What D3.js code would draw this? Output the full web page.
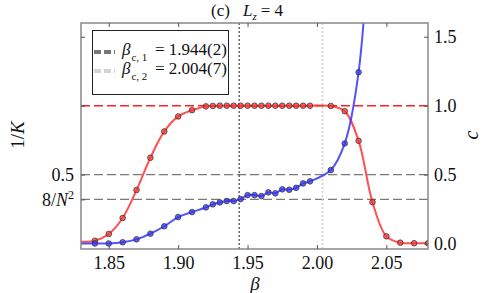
<!DOCTYPE html>
<html>
<head>
<meta charset="utf-8">
<script src="https://cdn.jsdelivr.net/npm/d3@7"></script>
<style>
  html, body { margin: 0; padding: 0; background: #fff; }
  svg text { font-family: "Liberation Serif", "DejaVu Serif", serif; fill: #111; }
</style>
</head>
<body>
<div id="chart"></div>
<script>
// --- data ---
const betaInvK = [1.83, 1.84, 1.85, 1.86, 1.87, 1.88, 1.89, 1.90, 1.91,
  1.92, 1.925, 1.93, 1.935, 1.94, 1.945, 1.95, 1.955, 1.96, 1.965, 1.97, 1.975, 1.98, 1.985, 1.99, 1.995,
  2.01, 2.02, 2.03, 2.04, 2.05, 2.06, 2.07, 2.08];
const invK = [0.013, 0.02, 0.069, 0.185, 0.388, 0.622, 0.813, 0.922, 0.967,
  0.995, 0.998, 1.0, 1.0, 1.0, 1.0, 1.0, 1.0, 1.0, 1.0, 1.0, 1.0, 1.0, 1.0, 1.0, 1.0,
  0.998, 0.96, 0.745, 0.30, 0.052, 0.006, 0.002, 0.002];

const betaC = [1.83, 1.84, 1.85, 1.86, 1.87, 1.88, 1.89, 1.90, 1.91,
  1.92, 1.925, 1.93, 1.935, 1.94, 1.945, 1.95, 1.955, 1.96, 1.965, 1.97, 1.975, 1.98, 1.985, 1.99, 1.995,
  2.01, 2.02, 2.03, 2.04];
const cVals = [0.0, 0.0, 0.0, 0.009, 0.03, 0.071, 0.125, 0.192, 0.228,
  0.262, 0.284, 0.298, 0.308, 0.308, 0.322, 0.351, 0.351, 0.344, 0.371, 0.364, 0.393, 0.39, 0.404, 0.436, 0.451,
  0.533, 0.726, 1.243, 2.65];

const xTicks = [1.85, 1.90, 1.95, 2.00, 2.05];
const rightTicks = [0.0, 0.5, 1.0, 1.5];
const leftTicks = [0.32, 0.5, 1.0, 1.5];
const leftLabels = { 0.32: "8/N²", 0.5: "0.5" };
const hLinesGray = [0.5, 0.32];
const hLineRed = 1.0;
const betaC1 = 1.944, betaC2 = 2.004;
const legendRows = [
  { sub: "c, 1", value: "= 1.944(2)", color: "#777" },
  { sub: "c, 2", value: "= 2.004(7)", color: "#d3d3d3" }
];

const width = 488, height = 293;
const margin = { top: 23, right: 60, bottom: 44, left: 81 };

const svg = d3.select("#chart").append("svg")
  .attr("width", width).attr("height", height);

const x = d3.scaleLinear().domain([1.83, 2.08]).range([margin.left, width - margin.right]);
const y = d3.scaleLinear().domain([-0.04, 1.6]).range([height - margin.bottom, margin.top]);

svg.append("clipPath").attr("id", "clip")
  .append("rect")
  .attr("x", margin.left).attr("y", margin.top)
  .attr("width", x.range()[1] - x.range()[0])
  .attr("height", y.range()[0] - y.range()[1]);

const plot = svg.append("g").attr("clip-path", "url(#clip)");

// reference lines
hLinesGray.forEach(v => {
  plot.append("line")
    .attr("x1", x.range()[0]).attr("x2", x.range()[1])
    .attr("y1", y(v)).attr("y2", y(v))
    .attr("stroke", "#7a7a7a").attr("stroke-width", 1.3)
    .attr("stroke-dasharray", "9,4");
});
plot.append("line")
  .attr("x1", x.range()[0]).attr("x2", x.range()[1])
  .attr("y1", y(hLineRed)).attr("y2", y(hLineRed))
  .attr("stroke", "#ff2020").attr("stroke-width", 1.4)
  .attr("stroke-dasharray", "9,4");

[[betaC1, "#666"], [betaC2, "#cfcfcf"]].forEach(([b, col]) => {
  plot.append("line")
    .attr("x1", x(b)).attr("x2", x(b))
    .attr("y1", y.range()[0]).attr("y2", y.range()[1])
    .attr("stroke", col).attr("stroke-width", 1.5)
    .attr("stroke-dasharray", "2,2");
});

// curves
const redData = betaInvK.map((b, i) => ({ b, v: invK[i] }));
const blueData = betaC.map((b, i) => ({ b, v: cVals[i] }));

const line = d3.line().x(d => x(d.b)).y(d => y(d.v)).curve(d3.curveCatmullRom.alpha(0.5));

function series(data, color) {
  plot.append("path").datum(data)
    .attr("d", line)
    .attr("fill", "none")
    .attr("stroke", color).attr("stroke-width", 2).attr("stroke-opacity", 0.85);
  plot.append("g").selectAll("circle")
    .data(data.filter(d => d.b > x.domain()[0]))
    .join("circle")
    .attr("cx", d => x(d.b)).attr("cy", d => y(d.v))
    .attr("r", 2.8)
    .attr("fill", color).attr("fill-opacity", 0.75)
    .attr("stroke", "#333").attr("stroke-opacity", 0.75).attr("stroke-width", 1);
}
series(redData, "#ff3333");
series(blueData, "#3434ff");

// frame
svg.append("rect")
  .attr("x", margin.left).attr("y", margin.top)
  .attr("width", x.range()[1] - x.range()[0])
  .attr("height", y.range()[0] - y.range()[1])
  .attr("fill", "none").attr("stroke", "#888").attr("stroke-width", 1.5);

// axes (inward ticks)
const xb = svg.append("g")
  .attr("transform", `translate(0,${y.range()[0]})`)
  .call(d3.axisBottom(x).tickValues(xTicks).tickFormat(d3.format(".2f")).tickSizeInner(-4).tickSizeOuter(0).tickPadding(7));
const xt = svg.append("g")
  .attr("transform", `translate(0,${y.range()[1]})`)
  .call(d3.axisTop(x).tickValues(xTicks).tickFormat("").tickSizeInner(-4).tickSizeOuter(0));
const yr = svg.append("g")
  .attr("transform", `translate(${x.range()[1]},0)`)
  .call(d3.axisRight(y).tickValues(rightTicks).tickFormat(d3.format(".1f")).tickSizeInner(-4).tickSizeOuter(0).tickPadding(6));
const yl = svg.append("g")
  .attr("transform", `translate(${x.range()[0]},0)`)
  .call(d3.axisLeft(y).tickValues(leftTicks).tickFormat(d => leftLabels[d] || "").tickSizeInner(-4).tickSizeOuter(0).tickPadding(7));

[xb, xt, yr, yl].forEach(g => {
  g.select(".domain").remove();
  g.selectAll(".tick line").attr("stroke", "#555").attr("stroke-width", 1);
  g.selectAll(".tick text").attr("font-size", 18).attr("font-family", "Liberation Serif").attr("fill", "#111");
});
yl.selectAll(".tick text").each(function (d) {
  if (d === 0.32) {
    const t = d3.select(this).text("8/");
    t.append("tspan").attr("font-style", "italic").text("N");
    t.append("tspan").attr("font-size", 12).attr("dy", -7).text("2");
  }
});

// labels
svg.append("text")
  .attr("transform", `translate(24,135) rotate(-90)`)
  .attr("text-anchor", "middle").attr("font-size", 19)
  .text("1/").append("tspan").attr("font-style", "italic").text("K");
svg.append("text")
  .attr("transform", `translate(478,135) rotate(-90)`)
  .attr("text-anchor", "middle").attr("font-size", 20).attr("font-style", "italic")
  .text("c");
svg.append("text")
  .attr("x", 255).attr("y", 290)
  .attr("text-anchor", "middle").attr("font-size", 19).attr("font-style", "italic")
  .text("β");

const title = svg.append("text")
  .attr("x", 211).attr("y", 16)
  .attr("text-anchor", "start").attr("font-size", 17);
title.append("tspan").text("(c)");
title.append("tspan").attr("x", 243).attr("font-style", "italic").text("L");
title.append("tspan").attr("font-style", "italic").attr("font-size", 11).attr("dy", 4).text("z");
title.append("tspan").attr("dy", -4).attr("dx", 4).text("= 4");

// legend
const lg = svg.append("g");
lg.append("rect")
  .attr("x", 92.5).attr("y", 30.5).attr("width", 136).attr("height", 64)
  .attr("fill", "#fff").attr("stroke", "#222").attr("stroke-width", 1);
legendRows.forEach((r, i) => {
  const yy = 52 + i * 19;
  lg.append("line")
    .attr("x1", 94).attr("x2", 115).attr("y1", yy).attr("y2", yy)
    .attr("stroke", r.color).attr("stroke-width", 4)
    .attr("stroke-dasharray", "7,3");
  const t = lg.append("text").attr("x", 122).attr("y", yy + 3).attr("font-size", 17);
  t.append("tspan").attr("font-style", "italic").text("β");
  t.append("tspan").attr("font-size", 11).attr("dy", 6).attr("dx", 1).text(r.sub);
  t.append("tspan").attr("dy", -6).attr("x", 155).text(r.value);
});
</script>
</body>
</html>
